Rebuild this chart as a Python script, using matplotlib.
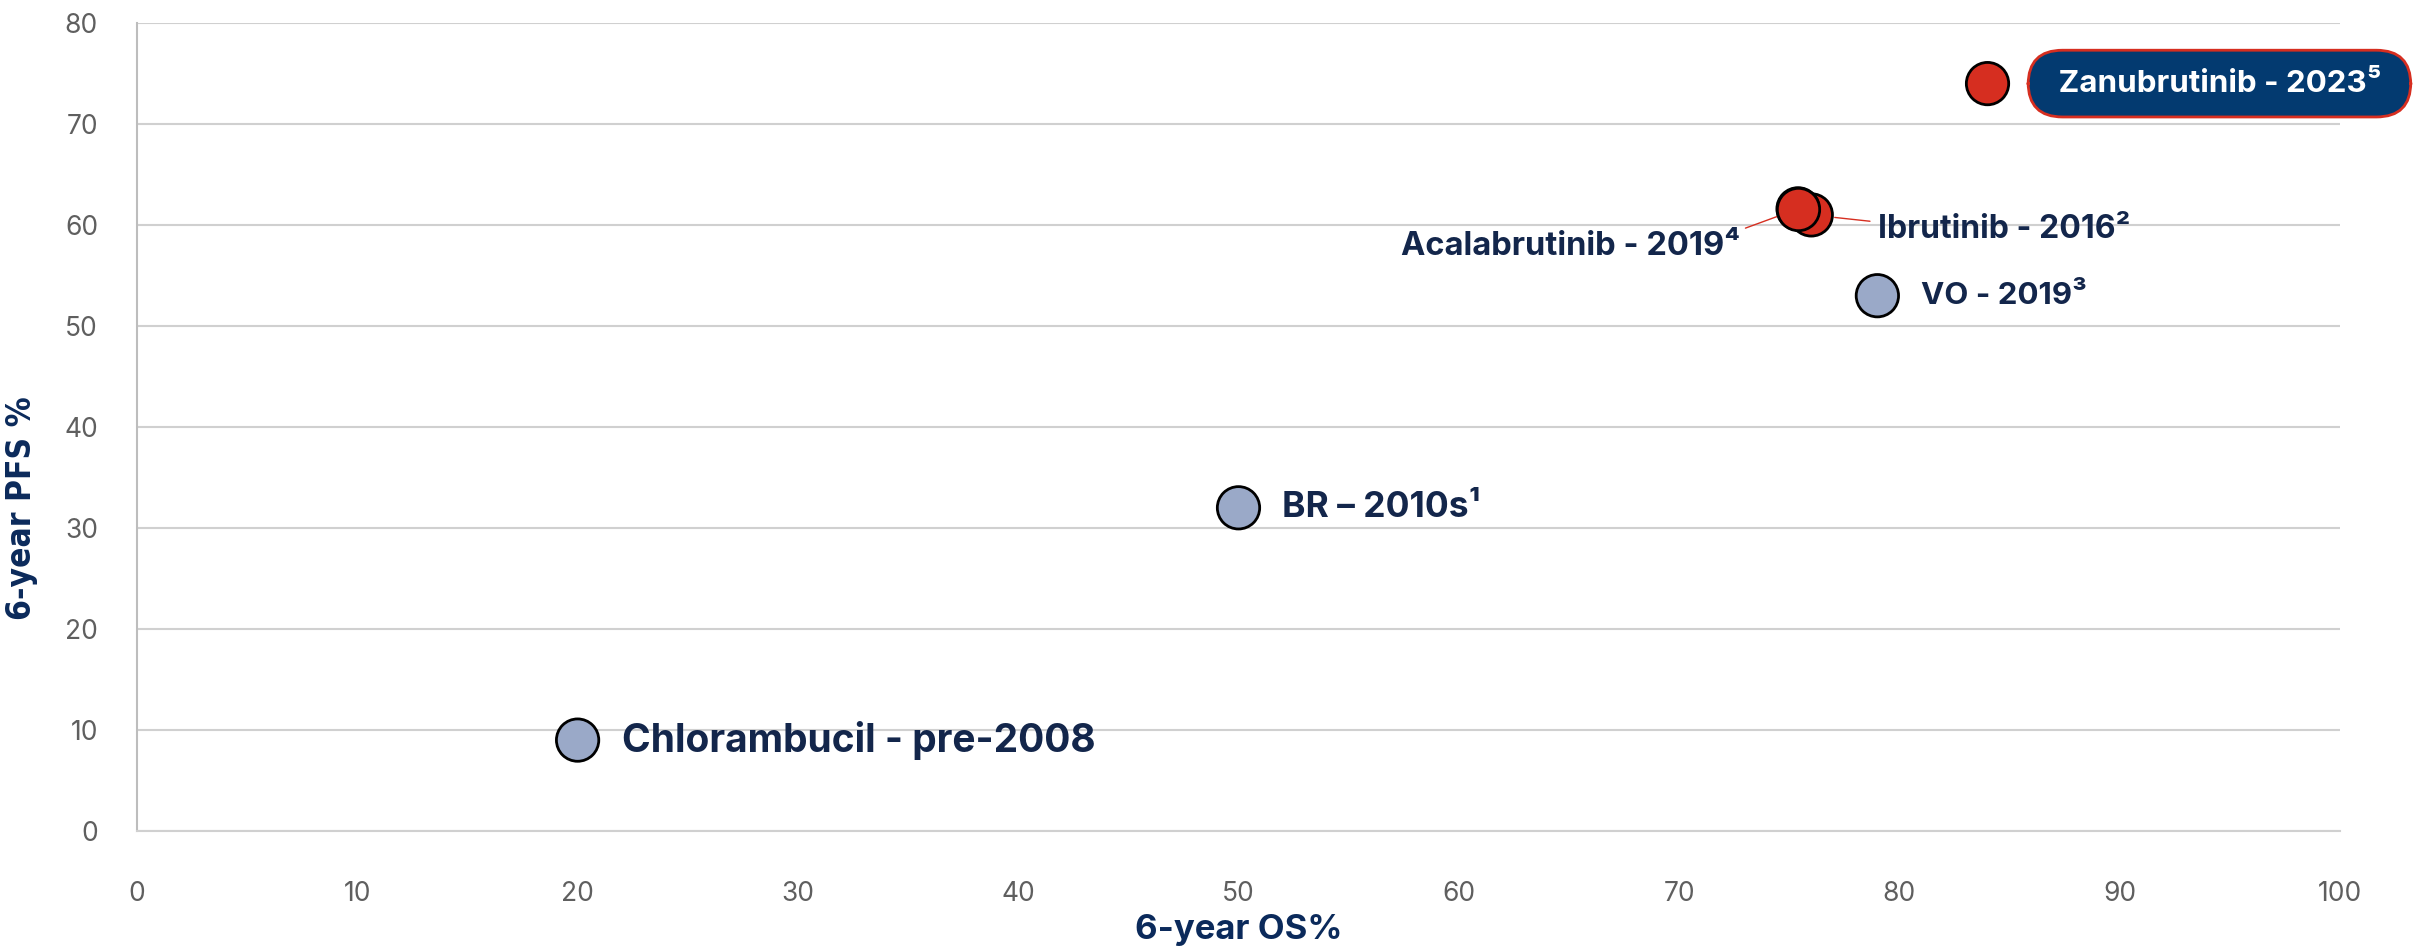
import matplotlib
matplotlib.use("Agg")
import matplotlib.pyplot as plt

# 6-year OS vs PFS per regimen
regimens = ["Chlorambucil - pre-2008", "BR \u2013 2010s\u00b9", "VO - 2019\u00b3",
            "Ibrutinib - 2016\u00b2", "Acalabrutinib - 2019\u2074", "Zanubrutinib - 2023\u2075"]
os_pct = [20, 50, 79, 76, 75.4, 84]
pfs_pct = [9, 32, 53, 61, 61.6, 74]
is_btki = [False, False, False, True, True, True]

x_ticks = list(range(0, 101, 10))
y_ticks = list(range(0, 81, 10))

RED = "#d62e20"
GREYBLUE = "#9aa9c8"
NAVY = "#13264b"
AXNAVY = "#0b2a5b"
BOXNAVY = "#033a70"
TICK = "#5f5f5f"
GRID = "#d0d0d0"

BOLD = ["Inter", "DejaVu Sans"]

fig = plt.figure(figsize=(24.14, 9.52), dpi=100)
ax = fig.add_axes([137 / 2414, 1 - 831 / 952, (2340 - 137) / 2414, (831 - 23) / 952])

ax.set_xlim(0, 100)
ax.set_ylim(0, 80)
ax.set_xticks(x_ticks)
ax.set_yticks(y_ticks)
ax.grid(axis="y", color=GRID, lw=1.5, zorder=0)
ax.set_axisbelow(True)
for side in ["top", "right"]:
    ax.spines[side].set_visible(False)
ax.spines["left"].set_color("#bdbdbd")
ax.spines["left"].set_linewidth(1.5)
ax.spines["bottom"].set_color(GRID)
ax.spines["bottom"].set_linewidth(1.5)
ax.tick_params(length=0, labelsize=19, labelcolor=TICK)
ax.tick_params(axis="x", pad=36)
ax.tick_params(axis="y", pad=28)
for lab in ax.get_xticklabels() + ax.get_yticklabels():
    lab.set_family(["Inter", "DejaVu Sans"])

ax.set_xlabel("6-year OS%", fontsize=25, fontweight="bold", color=AXNAVY,
              family=BOLD)
ax.xaxis.set_label_coords(0.5, -0.103)
ax.set_ylabel("6-year PFS %", fontsize=24, fontweight="bold", color=AXNAVY,
              family=["Liberation Sans Narrow", "DejaVu Sans"],
              fontstretch="condensed")
ax.yaxis.set_label_coords(-0.045, 0.40)

colors = [RED if b else GREYBLUE for b in is_btki]
ax.scatter(os_pct, pfs_pct, s=930, c=colors, edgecolors="black", linewidths=2,
           zorder=3, clip_on=False)
# keep acalabrutinib drawn above ibrutinib
ax.scatter(os_pct[4], pfs_pct[4], s=930, c=RED, edgecolors="black", linewidths=2,
           zorder=4)

# plain labels to the right of the marker
for i, size in [(0, 28), (1, 25.5), (2, 22.5)]:
    ax.annotate(regimens[i], (os_pct[i], pfs_pct[i]), xytext=(44, 0),
                textcoords="offset pixels", ha="left", va="center",
                fontsize=size, fontweight="bold", color=NAVY, family=BOLD)

# leader-line labels for the overlapping BTKi pair
ax.annotate(regimens[3], (os_pct[3], pfs_pct[3]), xytext=(67, -15),
            textcoords="offset pixels", ha="left", va="center",
            fontsize=23, fontweight="bold", color=NAVY, family=BOLD,
            arrowprops=dict(arrowstyle="-", color=RED, lw=1, shrinkA=4, shrinkB=17,
                            relpos=(0.0, 0.75)))
ax.annotate(regimens[4], (os_pct[4], pfs_pct[4]), xytext=(-58, -38),
            textcoords="offset pixels", ha="right", va="center",
            fontsize=23.5, fontweight="bold", color=NAVY, family=BOLD,
            arrowprops=dict(arrowstyle="-", color=RED, lw=1, shrinkA=2, shrinkB=15,
                            relpos=(0.99, 1.0)))

ax.annotate("\u2004" + regimens[5] + "\u2004", (os_pct[5], pfs_pct[5]),
            xytext=(60, 0), textcoords="offset pixels", ha="left", va="center",
            fontsize=22.5, fontweight="bold", color="white", family=BOLD,
            annotation_clip=False,
            bbox=dict(boxstyle="round,pad=0.62,rounding_size=1.1", fc=BOXNAVY,
                      ec=RED, lw=2))

fig.savefig("out.png", dpi=100)
